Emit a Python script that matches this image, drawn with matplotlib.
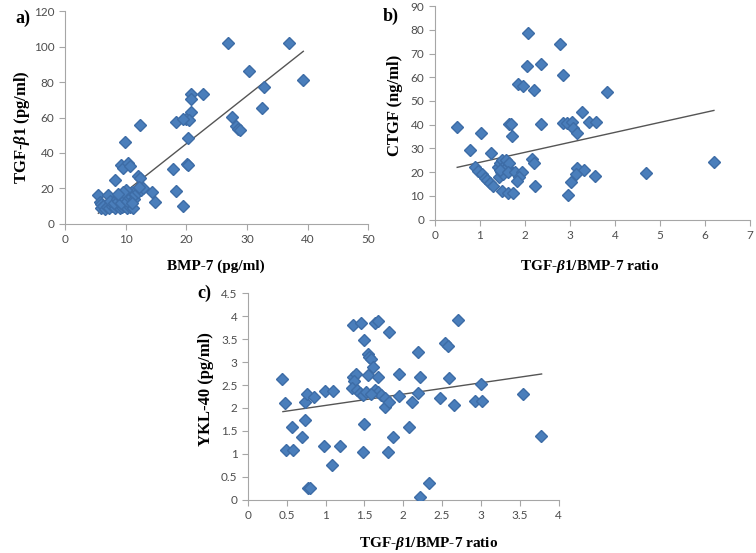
import matplotlib
matplotlib.use("Agg")
import matplotlib.pyplot as plt

plt.rcParams['font.family'] = ['Liberation Serif', 'DejaVu Serif']
plt.rcParams['mathtext.fontset'] = 'custom'
plt.rcParams['mathtext.rm'] = 'Liberation Serif:bold'
plt.rcParams['mathtext.it'] = 'Liberation Serif:italic:bold'
plt.rcParams['mathtext.bf'] = 'Liberation Serif:bold'

# panel a: BMP-7 vs TGF-b1
a_x = [26.9, 37.0, 39.3, 30.4, 32.8, 32.5, 27.5, 28.2, 28.6, 28.8,
       20.7, 20.7, 22.7, 20.7, 20.0, 20.5, 18.3, 19.5, 20.3, 20.2, 20.3,
       17.8, 18.3, 19.5, 14.8, 14.3, 9.9, 12.3, 9.2, 9.5, 10.4, 10.8,
       8.2, 5.5, 7.1, 5.8, 6.0, 12.0, 12.4,
       6.0, 6.3, 6.6, 7.0, 7.3, 7.8, 8.2, 8.6, 9.0, 9.4, 9.8, 10.2, 10.8, 11.2,
       7.5, 8.0, 8.5, 8.8, 9.1, 9.3, 9.6, 9.9, 10.2, 10.4, 10.6, 10.9, 11.1,
       11.3, 11.6, 11.8, 12.0, 12.3, 12.6, 12.9, 10.0, 9.5, 8.7, 12.2, 11.0]
a_y = [102, 102, 81, 86, 77, 65.6, 60.3, 55.1, 53.8, 52.9,
       73.5, 70.7, 73.5, 63.2, 59.4, 58.5, 57.5, 59.4, 48.2, 34, 33.2,
       30.8, 18.7, 10.1, 12.2, 18.2, 46.3, 55.5, 33.2, 31.3, 34.1, 32.6,
       24.7, 16.2, 16.2, 12.6, 11.2, 27, 26,
       9, 10, 8.5, 9.5, 9, 10, 9, 10, 9, 9.5, 10, 9, 9.5, 9,
       13, 12, 14, 13, 15, 12, 16, 14, 13, 17, 15, 16, 18,
       14, 17, 19, 18, 20, 19, 20, 19, 18, 17, 21, 12]
a_fit = (2.7, -8.8, 5.5, 39.3)  # slope, intercept, x from, x to

# panel b: TGF-b1/BMP-7 ratio vs CTGF
b_x = [0.50, 0.79, 1.02, 1.26, 2.07, 2.79, 2.04, 2.37, 2.85, 1.84, 1.96, 2.20,
       3.83, 1.64, 1.70, 1.72, 2.37, 2.85, 2.93, 3.04, 3.07, 3.15, 3.26,
       3.43, 3.58, 6.20, 4.70, 3.56, 3.15, 3.31, 3.13, 3.02, 2.95,
       0.89, 0.96, 1.04, 1.11, 1.16, 1.22, 1.30,
       1.40, 1.45, 1.50, 1.55, 1.60, 1.48, 1.42, 1.52, 1.58, 1.65, 1.44, 1.62,
       1.50, 1.63, 1.74, 1.78, 1.93, 1.87, 1.82, 2.15, 2.20, 2.22]
b_y = [39, 29.5, 36.5, 28, 78.5, 74, 64.8, 65.5, 60.8, 57.3, 56.2, 54.7,
       53.8, 40.2, 40.2, 35.4, 40.2, 40.6, 40.6, 41.2, 38.6, 36.5, 45.3,
       41.2, 41.2, 24.2, 19.6, 18.2, 21.8, 21.0, 19.2, 16.0, 10.5,
       22.0, 20.5, 19.0, 17.5, 16.5, 15.6, 14.0,
       22, 24, 25, 23, 22, 20, 18, 19, 25, 24, 21, 20,
       12.0, 11.0, 11.2, 20.0, 20.0, 18.0, 16.4, 25.5, 23.8, 14.0]
b_fit = (4.21, 19.9, 0.5, 6.2)

# panel c: TGF-b1/BMP-7 ratio vs YKL-40
c_x = [0.44, 0.48, 0.49, 0.58, 0.57, 0.69, 0.73, 0.74, 0.76, 0.85, 0.77, 0.80,
       0.99, 1.10, 0.98, 1.18, 1.08, 1.35, 1.46, 1.63, 1.67, 1.81, 1.49,
       1.54, 1.56, 1.59, 1.61, 1.54, 1.67, 1.35, 1.39, 1.37, 1.34, 1.40,
       1.44, 1.48, 1.63, 1.67, 1.71, 1.76, 1.77, 1.82, 1.94, 1.95, 1.49,
       1.48, 1.80, 1.87, 2.07, 2.11, 2.19, 2.19, 2.22, 2.21, 2.33, 2.47,
       2.54, 2.57, 2.59, 2.65, 2.71, 2.92, 3.01, 3.00, 3.54, 3.77, 1.52, 1.58]
c_y = [2.64, 2.10, 1.09, 1.09, 1.59, 1.37, 1.74, 2.13, 2.30, 2.23, 0.25, 0.27,
       2.37, 2.37, 1.18, 1.18, 0.76, 3.80, 3.84, 3.86, 3.89, 3.65, 3.47,
       3.18, 3.12, 3.06, 2.90, 2.72, 2.68, 2.68, 2.74, 2.58, 2.44, 2.39,
       2.33, 2.28, 2.39, 2.35, 2.28, 2.21, 2.03, 2.13, 2.75, 2.26, 1.65,
       1.05, 1.05, 1.37, 1.59, 2.13, 2.33, 3.22, 2.68, 0.07, 0.36, 2.22,
       3.42, 3.34, 2.66, 2.06, 3.92, 2.16, 2.16, 2.52, 2.30, 1.40, 2.35, 2.30]
c_fit = (0.246, 1.81, 0.45, 3.78)

fig = plt.figure(figsize=(7.56, 5.53), dpi=100)

panels = [
    dict(rect=[0.086, 0.595, 0.401, 0.385], xs=a_x, ys=a_y, fit=a_fit,
         xl=(0, 50), xt=[0, 10, 20, 30, 40, 50], yl=(0, 120), yt=[0, 20, 40, 60, 80, 100, 120],
         xlab='BMP-7 (pg/ml)', ylab=r'TGF-$\beta$1 (pg/ml)', tag='a)',
         xlc=(0.498, -0.165), ylc=(-0.11, 0.455), tagc=(-0.14, 0.965)),
    dict(rect=[0.575, 0.603, 0.417, 0.386], xs=b_x, ys=b_y, fit=b_fit,
         xl=(0, 7), xt=list(range(8)), yl=(0, 90), yt=list(range(0, 91, 10)),
         xlab=r'TGF-$\beta$1/BMP-7 ratio', ylab='CTGF (ng/ml)', tag='b)',
         xlc=(0.49, -0.18), ylc=(-0.1, 0.535), tagc=(-0.14, 0.95)),
    dict(rect=[0.328, 0.096, 0.411, 0.374], xs=c_x, ys=c_y, fit=c_fit,
         xl=(0, 4), xt=[0, 0.5, 1, 1.5, 2, 2.5, 3, 3.5, 4],
         yl=(0, 4.5), yt=[0, 0.5, 1, 1.5, 2, 2.5, 3, 3.5, 4, 4.5],
         xlab=r'TGF-$\beta$1/BMP-7 ratio', ylab='YKL-40 (pg/ml)', tag='c)',
         xlc=(0.58, -0.17), ylc=(-0.108, 0.536), tagc=(-0.14, 1.0)),
]

for p in panels:
    ax = fig.add_axes(p['rect'])
    ax.plot(p['xs'], p['ys'], 'D', color='#4a7ebb', markeredgecolor='#3d6ca6',
            markersize=6.3, zorder=3)
    m, b, x0, x1 = p['fit']
    ax.plot([x0, x1], [m * x0 + b, m * x1 + b], color='#555555', lw=1, zorder=2)
    ax.set_xlim(*p['xl'])
    ax.set_ylim(*p['yl'])
    ax.set_xticks(p['xt'])
    ax.set_yticks(p['yt'])
    ax.set_xticklabels(['%g' % v for v in p['xt']], family='Lato')
    ax.set_yticklabels(['%g' % v for v in p['yt']], family='Lato')
    for s in ['top', 'right']:
        ax.spines[s].set_visible(False)
    for s in ['left', 'bottom']:
        ax.spines[s].set_color('#a6a6a6')
        ax.spines[s].set_linewidth(0.8)
    ax.tick_params(colors='#a6a6a6', labelcolor='#4d4d4d', labelsize=8.5, length=4, width=0.8)
    ax.set_xlabel(p['xlab'], fontsize=11, fontweight='bold')
    ax.set_ylabel(p['ylab'], fontsize=12, fontweight='bold')
    ax.xaxis.set_label_coords(*p['xlc'])
    ax.yaxis.set_label_coords(*p['ylc'])
    ax.text(p['tagc'][0], p['tagc'][1], p['tag'], transform=ax.transAxes, fontsize=13,
            fontweight='bold', ha='center', va='center')

fig.savefig('out.png', dpi=100)
